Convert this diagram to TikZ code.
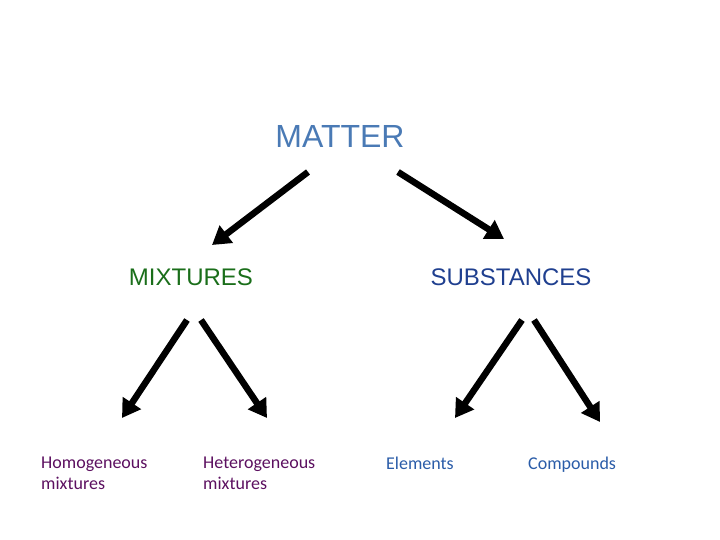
\documentclass[tikz,border=0pt]{standalone}
\usepackage{fontspec}
\setmainfont{Liberation Sans}
\newfontfamily\calfont{Carlito}
\usetikzlibrary{arrows.meta}
\definecolor{mattc}{HTML}{4A7AB5}
\definecolor{mixc}{HTML}{1A6E1A}
\definecolor{subc}{HTML}{1F3F8F}
\definecolor{purp}{HTML}{5C1060}
\definecolor{elc}{HTML}{2A5CA8}
\begin{document}
\begin{tikzpicture}[x=1pt,y=-1pt,
  arr/.style={line width=6.5pt,-{Triangle[length=18pt,width=21pt]}},
  big/.style={font=\fontsize{24}{28}\selectfont,inner sep=0pt},
  small/.style={font=\calfont\fontsize{18}{21}\selectfont,inner sep=0pt,anchor=north west,align=left}]
\useasboundingbox (0,0) rectangle (720,540);
\node[big,text=mattc,font=\fontsize{32}{36}\selectfont] (matter) at (340,136) {MATTER};
\node[big,text=mixc] (mix) at (191,277) {MIXTURES};
\node[big,text=subc] (sub) at (511,277) {SUBSTANCES};
\node[small,text=purp] (hom) at (41,457) {Homogeneous\\mixtures};
\node[small,text=purp] (het) at (203,457) {Heterogeneous\\mixtures};
\node[small,text=elc] (el) at (386,457) {Elements};
\node[small,text=elc] (com) at (528,457) {Compounds};
\coordinate (a1s) at (308,172); \coordinate (a1e) at (212,245);
\coordinate (a2s) at (398,172); \coordinate (a2e) at (504,239);
\coordinate (a3s) at (187,320); \coordinate (a3e) at (122,418);
\coordinate (a4s) at (201,320); \coordinate (a4e) at (267,418);
\coordinate (a5s) at (522,320); \coordinate (a5e) at (455,418);
\coordinate (a6s) at (534,320); \coordinate (a6e) at (600,422);
\draw[arr] (a1s) -- (a1e);
\draw[arr] (a2s) -- (a2e);
\draw[arr] (a3s) -- (a3e);
\draw[arr] (a4s) -- (a4e);
\draw[arr] (a5s) -- (a5e);
\draw[arr] (a6s) -- (a6e);
\end{tikzpicture}
\end{document}
